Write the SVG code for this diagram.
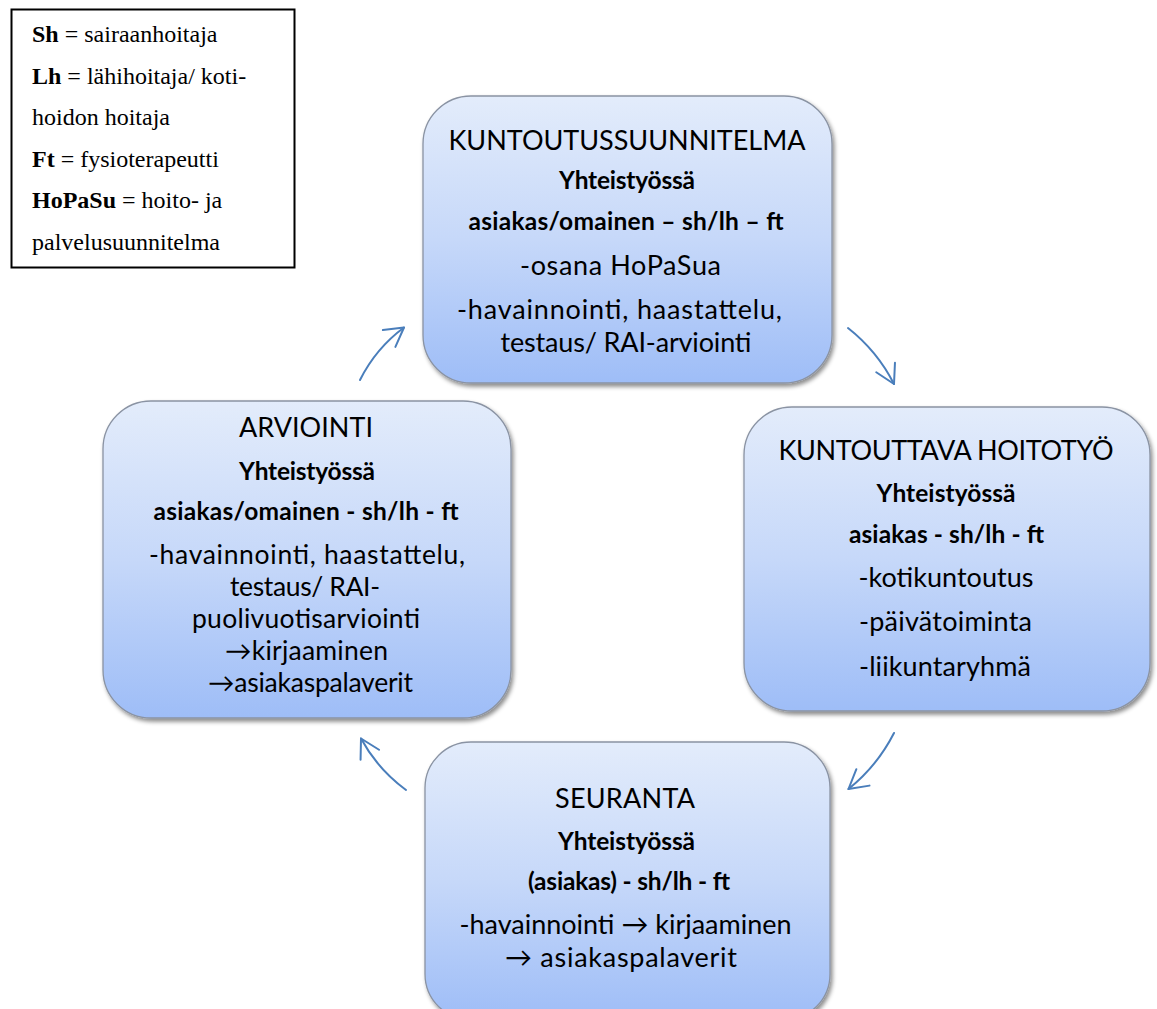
<svg xmlns="http://www.w3.org/2000/svg" width="1157" height="1009" viewBox="0 0 1157 1009">
  <style>
    .box { fill: url(#boxFill); stroke: #8a93a3; stroke-width: 1.3; filter: url(#shadow); }
    .t { font-family: "Lato", "DejaVu Sans", sans-serif; fill: #000; text-anchor: middle; }
    .title { font-size: 27px; }
    .body { font-size: 27px; }
    .tight { font-size: 26.5px; }
    .bold { font-size: 24.5px; font-weight: bold; }
    .legend { font-family: "Liberation Serif", "Times New Roman", serif; font-size: 24px; fill: #000; }
    .legend .b { font-weight: bold; }
    .arrow { fill: none; stroke: #4a7ebb; stroke-width: 2; stroke-linecap: round; marker-end: url(#openHead); }
  </style>
  <defs>
    <linearGradient id="boxFill" x1="0" y1="0" x2="0" y2="1">
      <stop offset="0" stop-color="#e3ecfb"/>
      <stop offset="0.5" stop-color="#c6d8f9"/>
      <stop offset="1" stop-color="#9ebdf7"/>
    </linearGradient>
    <filter id="shadow" x="-10%" y="-10%" width="125%" height="125%">
      <feDropShadow dx="2" dy="3" stdDeviation="2" flood-color="#000" flood-opacity="0.45"/>
    </filter>
    <marker id="openHead" markerUnits="userSpaceOnUse" viewBox="-21 -13 24 26" markerWidth="24" markerHeight="26" refX="0" refY="0" orient="auto">
      <path d="M-18.5,-10.5 L0,0 L-18.5,10.5" fill="none" stroke="#4a7ebb" stroke-width="2" stroke-linecap="round" stroke-linejoin="round"/>
    </marker>
  </defs>

  <rect width="1157" height="1009" fill="#fff"/>

  <!-- abbreviations -->
  <g id="legend">
    <rect x="11.5" y="9.5" width="283" height="258" fill="#fff" stroke="#000" stroke-width="2"/>
    <text class="legend" x="32" y="42"><tspan class="b">Sh</tspan> = sairaanhoitaja</text>
    <text class="legend" x="32" y="83.5"><tspan class="b">Lh</tspan> = lähihoitaja/ koti-</text>
    <text class="legend" x="32" y="125">hoidon hoitaja</text>
    <text class="legend" x="32" y="166.5"><tspan class="b">Ft</tspan> = fysioterapeutti</text>
    <text class="legend" x="32" y="207.5"><tspan class="b">HoPaSu</tspan> = hoito- ja</text>
    <text class="legend" x="32" y="249.5">palvelusuunnitelma</text>
  </g>

  <!-- cycle connectors -->
  <g id="connectors">
    <path class="arrow" d="M360,380 Q375.8,348.4 404,327.5"/>
    <path class="arrow" d="M848,328 Q877.2,351 894,384"/>
    <path class="arrow" d="M894,733 Q877.2,766 848.5,789"/>
    <path class="arrow" d="M406,790 Q377.5,769 361,738.5"/>
  </g>

  <g id="kuntoutussuunnitelma">
    <rect class="box" x="423" y="96" width="409" height="287" rx="48" ry="48"/>
    <text class="t title" x="627" y="150" textLength="357" lengthAdjust="spacing">KUNTOUTUSSUUNNITELMA</text>
    <text class="t bold" x="627" y="189" textLength="136" lengthAdjust="spacing">Yhteistyössä</text>
    <text class="t bold" x="626" y="230" textLength="315" lengthAdjust="spacing">asiakas/omainen – sh/lh – ft</text>
    <text class="t body" x="620.5" y="275" textLength="201" lengthAdjust="spacing">-osana HoPaSua</text>
    <text class="t body"><tspan x="619.5" y="318.5" textLength="325" lengthAdjust="spacing">-havainnointi, haastattelu,</tspan><tspan x="626" y="351.5" textLength="251" lengthAdjust="spacing">testaus/ RAI-arviointi</tspan></text>
  </g>

  <g id="kuntouttava-hoitotyo">
    <rect class="box" x="744" y="407" width="406" height="304" rx="48" ry="48"/>
    <text class="t title" x="946" y="460" textLength="335" lengthAdjust="spacing">KUNTOUTTAVA HOITOTYÖ</text>
    <text class="t bold" x="946" y="501.5" textLength="139" lengthAdjust="spacing">Yhteistyössä</text>
    <text class="t bold" x="946.5" y="543" textLength="195" lengthAdjust="spacing">asiakas - sh/lh - ft</text>
    <text class="t body" x="946" y="586.5" textLength="175" lengthAdjust="spacing">-kotikuntoutus</text>
    <text class="t body" x="945.5" y="630.5" textLength="173" lengthAdjust="spacing">-päivätoiminta</text>
    <text class="t body" x="945" y="675.5" textLength="172" lengthAdjust="spacing">-liikuntaryhmä</text>
  </g>

  <g id="seuranta">
    <rect class="box" x="425" y="742" width="405" height="278" rx="46" ry="46"/>
    <text class="t title" x="625" y="808" textLength="140" lengthAdjust="spacing">SEURANTA</text>
    <text class="t bold" x="626.5" y="850" textLength="137" lengthAdjust="spacing">Yhteistyössä</text>
    <text class="t bold" x="629" y="890" textLength="202" lengthAdjust="spacing">(asiakas) - sh/lh - ft</text>
    <text class="t body"><tspan x="625.5" y="933.5" textLength="332" lengthAdjust="spacing">-havainnointi → kirjaaminen</tspan><tspan x="621" y="966.5" textLength="232" lengthAdjust="spacing">→ asiakaspalaverit</tspan></text>
  </g>

  <g id="arviointi">
    <rect class="box" x="103" y="401" width="408" height="317" rx="48" ry="48"/>
    <text class="t title" x="306" y="436.5" textLength="134" lengthAdjust="spacing">ARVIOINTI</text>
    <text class="t bold" x="307" y="479.5" textLength="136" lengthAdjust="spacing">Yhteistyössä</text>
    <text class="t bold" x="306" y="520" textLength="305" lengthAdjust="spacing">asiakas/omainen - sh/lh - ft</text>
    <text class="t tight"><tspan x="307" y="564" textLength="316" lengthAdjust="spacing">-havainnointi, haastattelu,</tspan><tspan x="305" y="596" textLength="150" lengthAdjust="spacing">testaus/ RAI-</tspan><tspan x="306" y="628" textLength="228" lengthAdjust="spacing">puolivuotisarviointi</tspan><tspan x="306.5" y="660" textLength="163" lengthAdjust="spacing">→kirjaaminen</tspan><tspan x="310.5" y="692" textLength="205" lengthAdjust="spacing">→asiakaspalaverit</tspan></text>
  </g>
</svg>
